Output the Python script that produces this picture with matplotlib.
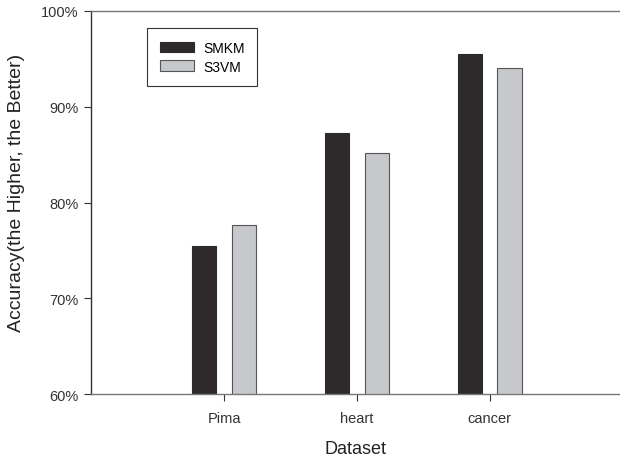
import numpy as np
import matplotlib.pyplot as plt
from matplotlib.ticker import FuncFormatter

plt.rcParams['font.family'] = ['Liberation Sans', 'DejaVu Sans']

# Data
datasets = ['Pima', 'heart', 'cancer']
smkm = [75.5, 87.3, 95.5]
s3vm = [77.7, 85.2, 94.0]

x = np.arange(len(datasets))
width = 0.185

fig = plt.figure(figsize=(6.2, 4.6), dpi=100)
ax = fig.add_axes([0.147, 0.141, 0.853, 0.833])

ax.bar(x - 0.15, smkm, width, color='#2e2a2b', edgecolor='#2e2a2b',
       linewidth=0.8, label='SMKM', zorder=2)
ax.bar(x + 0.15, s3vm, width, color='#c6c8cc', edgecolor='#555555',
       linewidth=0.8, label='S3VM', zorder=2)

ax.set_ylim(60, 100)
ax.set_xlim(-1.0, 2.98)
ax.set_yticks([60, 70, 80, 90, 100])
ax.yaxis.set_major_formatter(FuncFormatter(lambda v, p: '%d%%' % v))
ax.set_xticks(x)
ax.set_xticklabels(datasets)

ax.spines['right'].set_visible(False)
ax.spines['left'].set_color('#333333')
ax.spines['top'].set_color('#777777')
ax.spines['bottom'].set_color('#777777')
for s in ['left', 'bottom', 'top']:
    ax.spines[s].set_linewidth(1.0)

ax.tick_params(axis='both', direction='out', length=5, width=0.8,
               colors='#333333', labelsize=10.5, top=False, right=False)
ax.tick_params(axis='y', pad=4)
ax.tick_params(axis='x', pad=7)

ax.set_xlabel('Dataset', fontsize=13, color='#222222', labelpad=11)
ax.set_ylabel('Accuracy(the Higher, the Better)', fontsize=14,
              color='#222222')
ax.yaxis.set_label_coords(-0.125, 0.527)

leg = ax.legend(loc='upper left', bbox_to_anchor=(0.106, 0.955),
                fancybox=False, edgecolor='#333333', framealpha=1,
                fontsize=10, handlelength=2.5, handleheight=0.8,
                borderpad=0.9, labelspacing=0.35, handletextpad=0.65,
                borderaxespad=0)
leg.get_frame().set_linewidth(0.8)

fig.savefig('out.png', dpi=100)
